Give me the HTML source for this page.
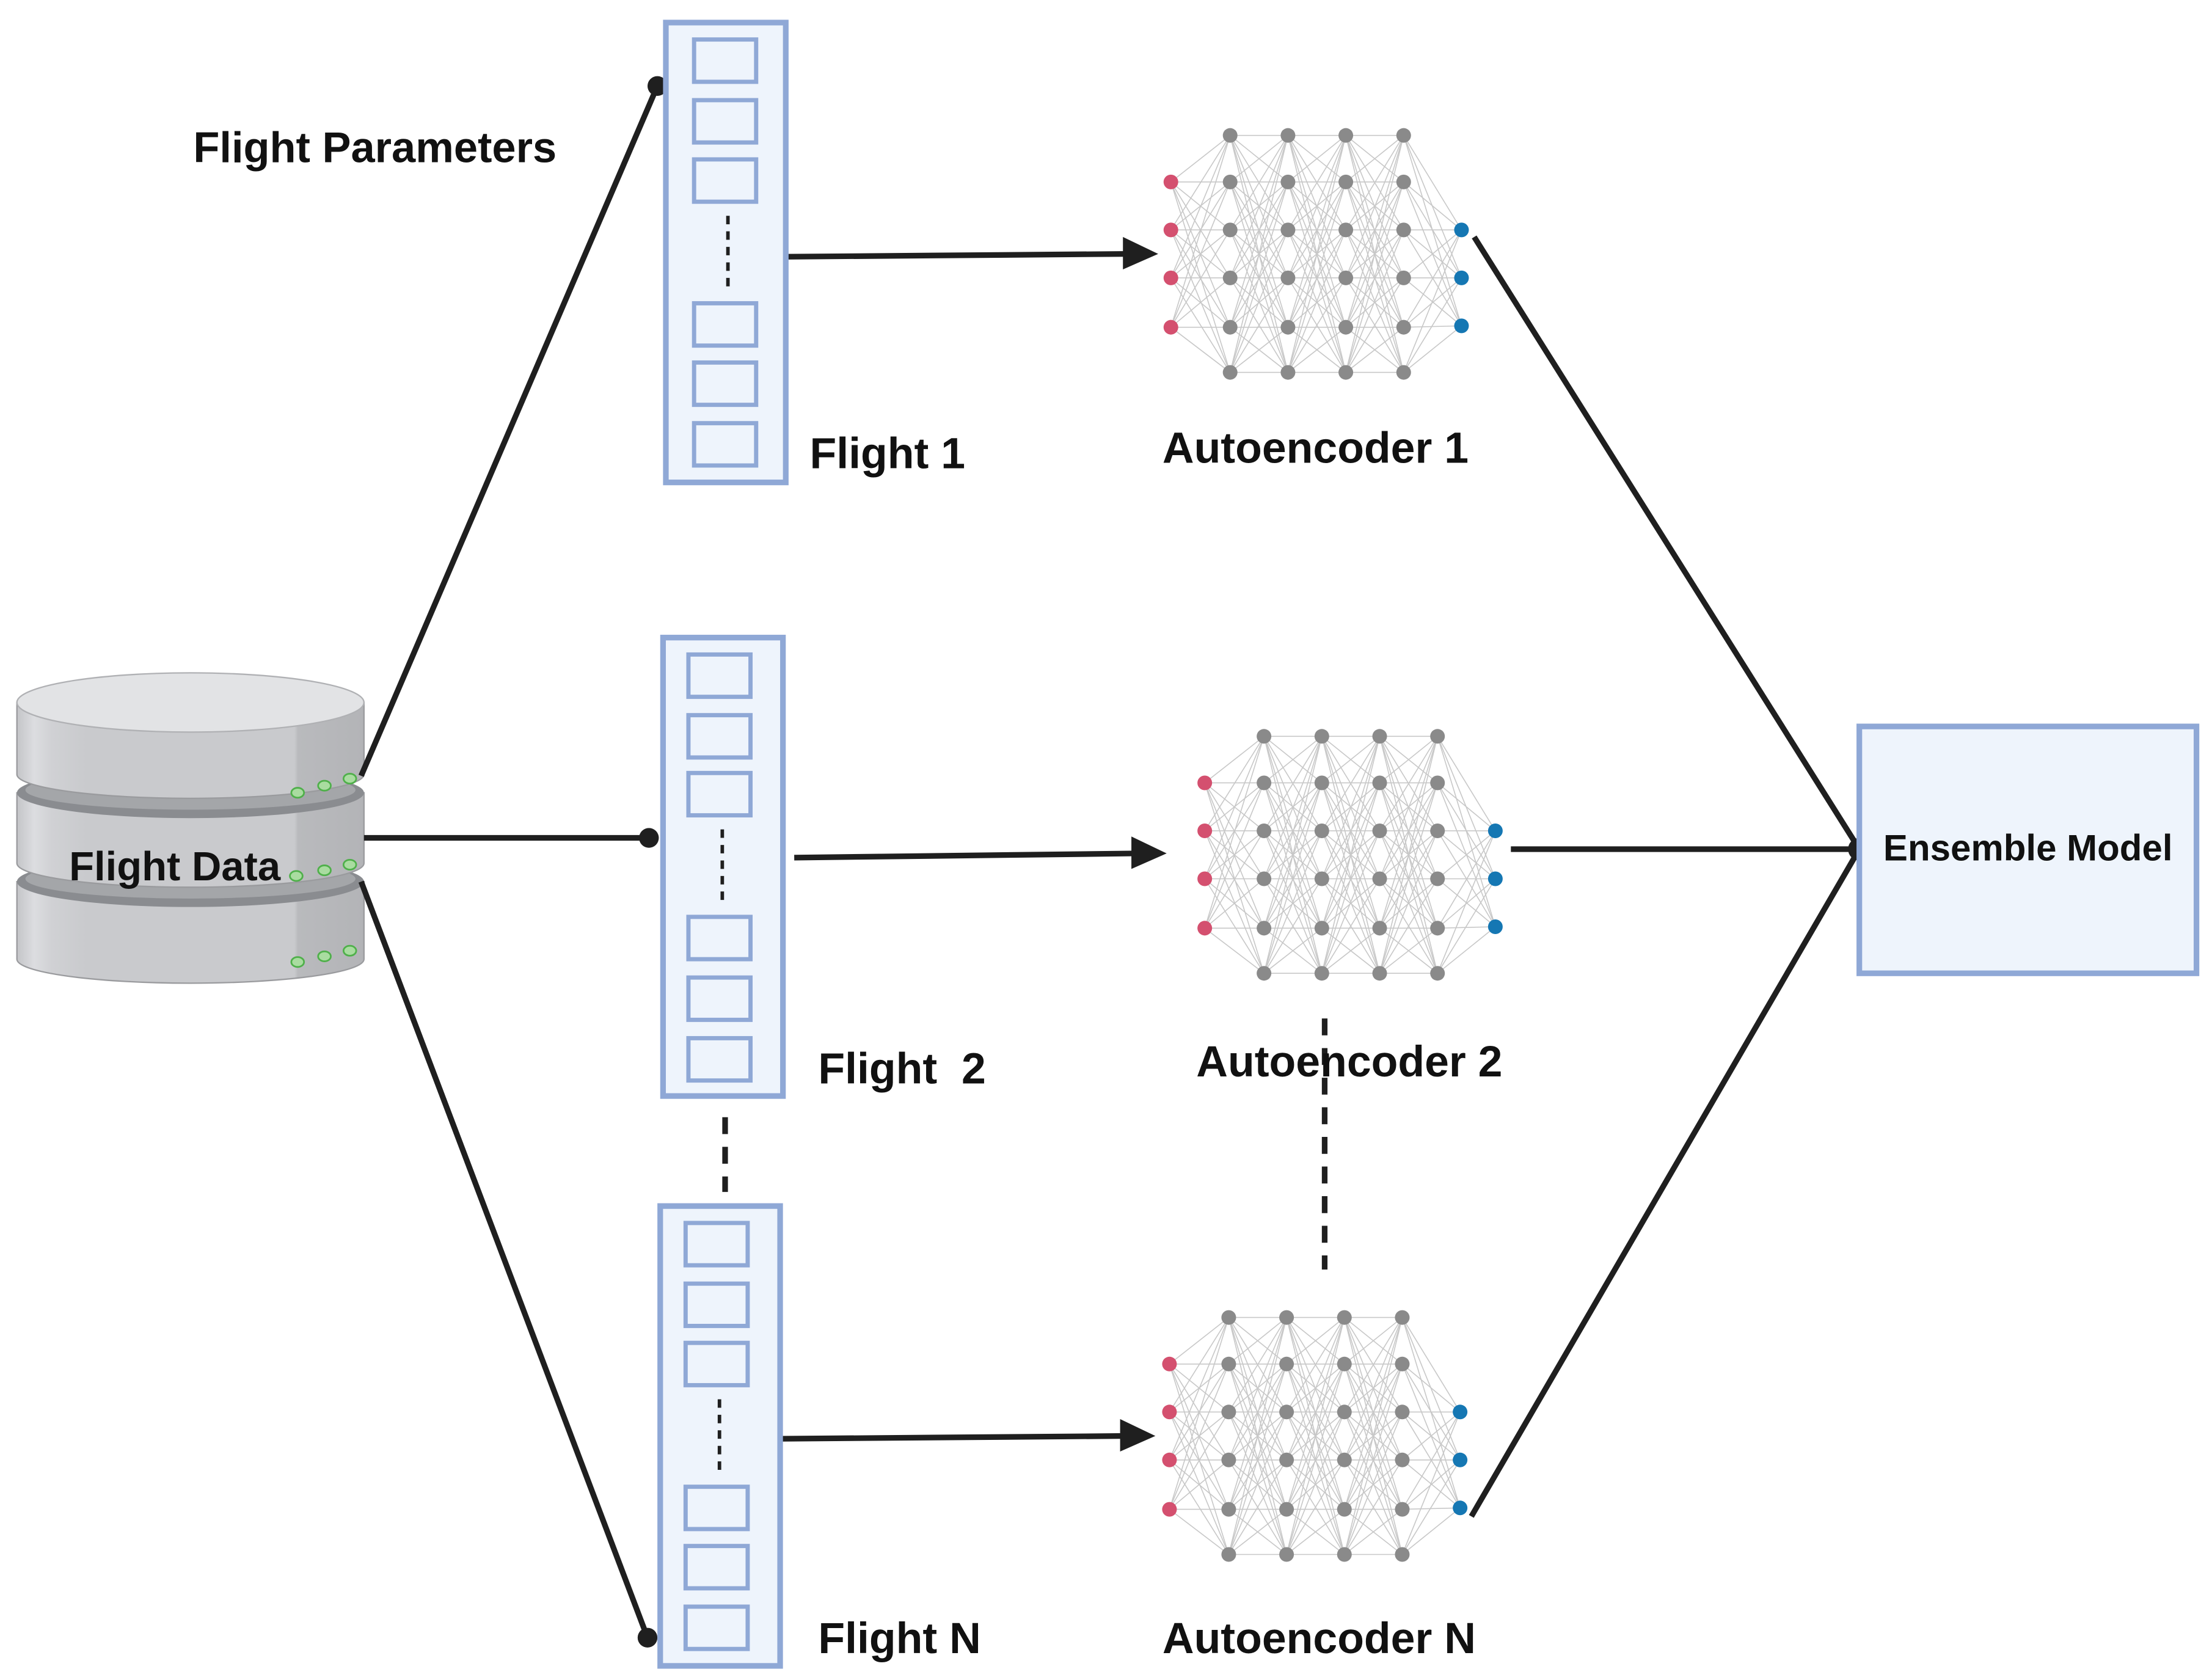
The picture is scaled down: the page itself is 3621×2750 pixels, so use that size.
<!DOCTYPE html>
<html><head><meta charset="utf-8"><style>
html,body{margin:0;padding:0;background:#fff;}
svg{display:block;}
text{font-family:"Liberation Sans",Arial,sans-serif;font-weight:bold;fill:#111;}
</style></head><body>
<svg id="s" width="3621" height="2750" viewBox="0 0 1568 1191" preserveAspectRatio="none" xmlns="http://www.w3.org/2000/svg">
<defs>
<linearGradient id="cyl" x1="0" x2="1" y1="0" y2="0">
<stop offset="0" stop-color="#c4c5c8"/><stop offset="0.05" stop-color="#dcdde0"/><stop offset="0.1" stop-color="#d0d1d4"/><stop offset="0.2" stop-color="#c9cacd"/><stop offset="0.8" stop-color="#c9cacd"/><stop offset="0.81" stop-color="#b9babd"/><stop offset="1" stop-color="#b3b4b7"/>
</linearGradient>
</defs>
<!-- database -->
<g>
  <path d="M12,625 L12,680 A123,17 0 0 0 258,680 L258,625 Z" fill="url(#cyl)" stroke="#9a9b9e" stroke-width="1"/>
  <ellipse cx="135" cy="625" rx="123" ry="18" fill="#8a8c90"/>
  <ellipse cx="135" cy="623" rx="117" ry="14" fill="#a4a6a9"/>
  <path d="M12,562 L12,612 A123,17 0 0 0 258,612 L258,562 Z" fill="url(#cyl)" stroke="#9a9b9e" stroke-width="1"/>
  <ellipse cx="135" cy="562" rx="123" ry="18" fill="#8a8c90"/>
  <ellipse cx="135" cy="560" rx="117" ry="14" fill="#a4a6a9"/>
  <path d="M12,498 L12,549 A123,17 0 0 0 258,549 L258,498 Z" fill="url(#cyl)" stroke="#9a9b9e" stroke-width="1"/>
  <ellipse cx="135" cy="498" rx="123" ry="21" fill="#e2e3e5" stroke="#b0b1b4" stroke-width="1"/>
  <g fill="#a9dca0" stroke="#4fb04a" stroke-width="1.2">
    <ellipse cx="211" cy="562" rx="4.5" ry="3.5"/><ellipse cx="230" cy="557" rx="4.5" ry="3.5"/><ellipse cx="248" cy="552" rx="4.5" ry="3.5"/>
    <ellipse cx="210" cy="621" rx="4.5" ry="3.5"/><ellipse cx="230" cy="617" rx="4.5" ry="3.5"/><ellipse cx="248" cy="613" rx="4.5" ry="3.5"/>
    <ellipse cx="211" cy="682" rx="4.5" ry="3.5"/><ellipse cx="230" cy="678" rx="4.5" ry="3.5"/><ellipse cx="248" cy="674" rx="4.5" ry="3.5"/>
  </g>
  <text x="49" y="624" font-size="29">Flight Data</text>
</g>
<!-- connectors -->
<g stroke="#1f1f1f" stroke-width="4" fill="none">
  <line x1="256" y1="550" x2="466" y2="61"/>
  <line x1="258" y1="594" x2="460" y2="594"/>
  <line x1="256" y1="625" x2="459" y2="1161"/>
  <line x1="557" y1="182" x2="800" y2="180"/>
  <line x1="563" y1="608" x2="806" y2="605"/>
  <line x1="553" y1="1020" x2="798" y2="1018"/>
  <line x1="1045" y1="168" x2="1318" y2="602"/>
  <line x1="1071" y1="602" x2="1318" y2="602"/>
  <line x1="1043" y1="1075" x2="1318" y2="602"/>
</g>
<g fill="#1f1f1f">
  <circle cx="466" cy="61" r="7"/><circle cx="460" cy="594" r="7"/><circle cx="459" cy="1161" r="7"/><circle cx="1318" cy="602" r="8"/>
  <polygon points="796,168 821,180 796,191"/>
  <polygon points="802,593 827,605 802,616"/>
  <polygon points="794,1006 819,1018 794,1029"/>
</g>
<g stroke="#1f1f1f" stroke-width="4" stroke-dasharray="12,9">
  <line x1="514" y1="792" x2="514" y2="845"/>
  <line x1="939" y1="722" x2="939" y2="900"/>
</g>
<g id="cols" fill="#eef4fc" stroke="#8fa8d6" stroke-width="4"></g>
<g id="nets"></g>
<rect x="1318" y="515" width="239" height="175" fill="#eef4fc" stroke="#8fa8d6" stroke-width="4"/>
<text x="1335" y="610" font-size="26">Ensemble Model</text>
<text x="137" y="115" font-size="30.5">Flight Parameters</text>
<text x="574" y="332" font-size="31">Flight 1</text>
<text x="824" y="328" font-size="31">Autoencoder 1</text>
<text x="580" y="768" font-size="31" xml:space="preserve">Flight  2</text>
<text x="848" y="763" font-size="31">Autoencoder 2</text>
<text x="580" y="1172" font-size="31">Flight N</text>
<text x="824" y="1172" font-size="31">Autoencoder N</text>
</svg>
<script>
var NS="http://www.w3.org/2000/svg";
function el(p,t,a){var e=document.createElementNS(NS,t);for(var k in a)e.setAttribute(k,a[k]);p.appendChild(e);return e;}
var cols=document.getElementById('cols');
[[472,16,85,326,492,[28,71,113,215,257,300]],[470,452,85,325,488,[464,507,548,650,693,736]],[468,855,85,326,486,[867,910,952,1054,1096,1139]]].forEach(function(c){
  el(cols,'rect',{x:c[0],y:c[1],width:c[2],height:c[3]});
  c[5].forEach(function(y){el(cols,'rect',{x:c[4],y:y,width:44,height:30,'stroke-width':3});});
  var mx=c[4]+22+2;
  el(cols,'line',{x1:mx,y1:c[5][2]+40,x2:mx,y2:c[5][3]-10,stroke:'#1f1f1f','stroke-width':2.5,'stroke-dasharray':'6,5'});
});
var nets=document.getElementById('nets');
function net(ox,oy){
  var inX=ox, hx=[ox+42,ox+83,ox+124,ox+165], outX=ox+206;
  var inY=[oy+33,oy+67,oy+101,oy+136];
  var hY=[oy,oy+33,oy+67,oy+101,oy+136,oy+168];
  var outY=[oy+67,oy+101,oy+135];
  var layers=[inY.map(function(y){return[inX,y]})];
  hx.forEach(function(x){layers.push(hY.map(function(y){return[x,y]}))});
  layers.push(outY.map(function(y){return[outX,y]}));
  var g=el(nets,'g',{stroke:'#c8c8c8','stroke-width':0.7});
  for(var i=0;i<layers.length-1;i++)layers[i].forEach(function(a){layers[i+1].forEach(function(b){el(g,'line',{x1:a[0],y1:a[1],x2:b[0],y2:b[1]});});});
  layers.forEach(function(L,i){L.forEach(function(p){el(nets,'circle',{cx:p[0],cy:p[1],r:5.2,fill:i==0?'#d4506f':(i==layers.length-1?'#1577b3':'#8a8a8a')});});});
}
net(830,96);net(854,522);net(829,934);
</script>
</body></html>
